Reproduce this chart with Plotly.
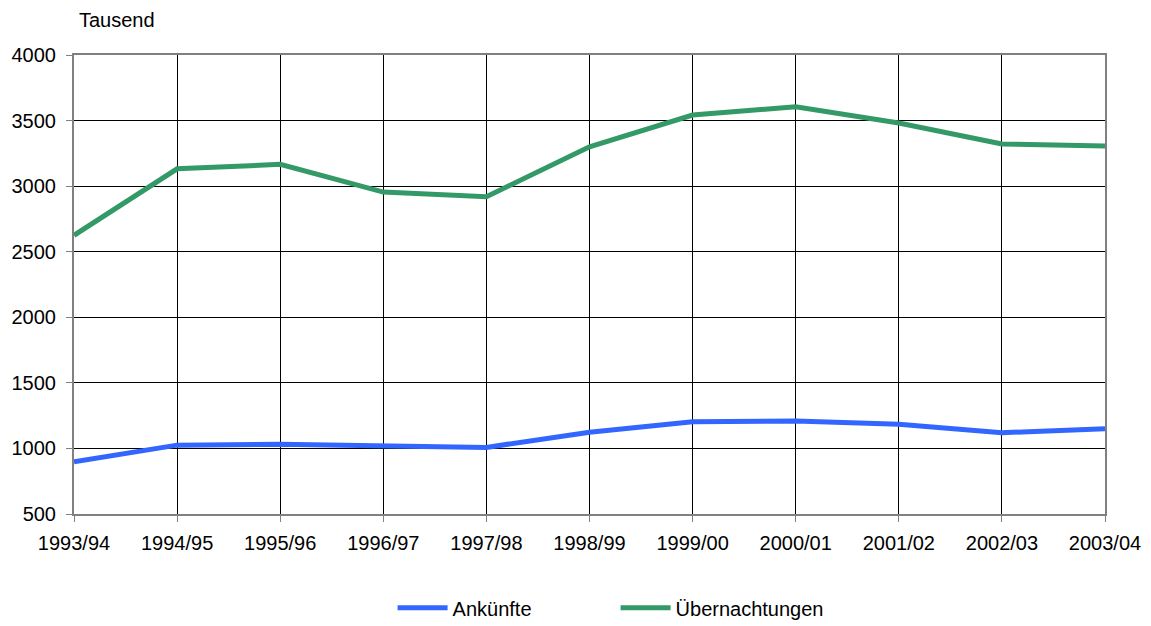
import plotly.graph_objects as go

seasons = ["1993/94", "1994/95", "1995/96", "1996/97", "1997/98", "1998/99",
           "1999/00", "2000/01", "2001/02", "2002/03", "2003/04"]
ankuenfte = [898, 1025, 1032, 1018, 1008, 1124, 1204, 1209, 1184, 1120, 1150]
uebernachtungen = [2625, 3132, 3166, 2955, 2919, 3300, 3542, 3605, 3482, 3321, 3306]
y_ticks = [500, 1000, 1500, 2000, 2500, 3000, 3500, 4000]

fig = go.Figure()
fig.add_trace(go.Scatter(x=seasons, y=ankuenfte, mode="lines", name="Ankünfte",
                         line=dict(color="#3366FF", width=5)))
fig.add_trace(go.Scatter(x=seasons, y=uebernachtungen, mode="lines", name="Übernachtungen",
                         line=dict(color="#339966", width=5)))

font = dict(family="Liberation Sans, Arial, sans-serif", size=20, color="black")
# page has an 8px body margin; margins compensate so the plot sits at 74..1105 x 55..514
fig.update_layout(
    width=1151, height=626,
    margin=dict(l=66, r=54, t=47, b=120, autoexpand=False),
    paper_bgcolor="white", plot_bgcolor="white",
    font=font,
    showlegend=True,
    legend=dict(orientation="h", x=0.309, xanchor="left", y=-0.162, yanchor="top",
                entrywidth=158, entrywidthmode="pixels", font=font,
                itemwidth=50, tracegroupgap=0),
    annotations=[dict(text="Tausend", xref="paper", yref="paper",
                      x=3 / 1031, y=1 + (55 - 20) / 459, xanchor="left", yanchor="middle",
                      showarrow=False, font=font)],
)
fig.update_xaxes(
    type="category", range=[0, 10], showgrid=True, gridcolor="black", gridwidth=1,
    showline=True, linecolor="#808080", linewidth=2, mirror=True,
    ticks="outside", ticklen=6, tickcolor="#808080", tickfont=font, zeroline=False,
    ticklabelstandoff=4, automargin=False,
)
fig.update_yaxes(
    range=[500, 4000], tickvals=y_ticks, showgrid=True, gridcolor="black", gridwidth=1,
    showline=True, linecolor="#808080", linewidth=2, mirror=True,
    ticks="outside", ticklen=6, tickcolor="#808080", tickfont=font, zeroline=False,
    ticklabelstandoff=6, automargin=False,
)
fig.write_html("out.html")
